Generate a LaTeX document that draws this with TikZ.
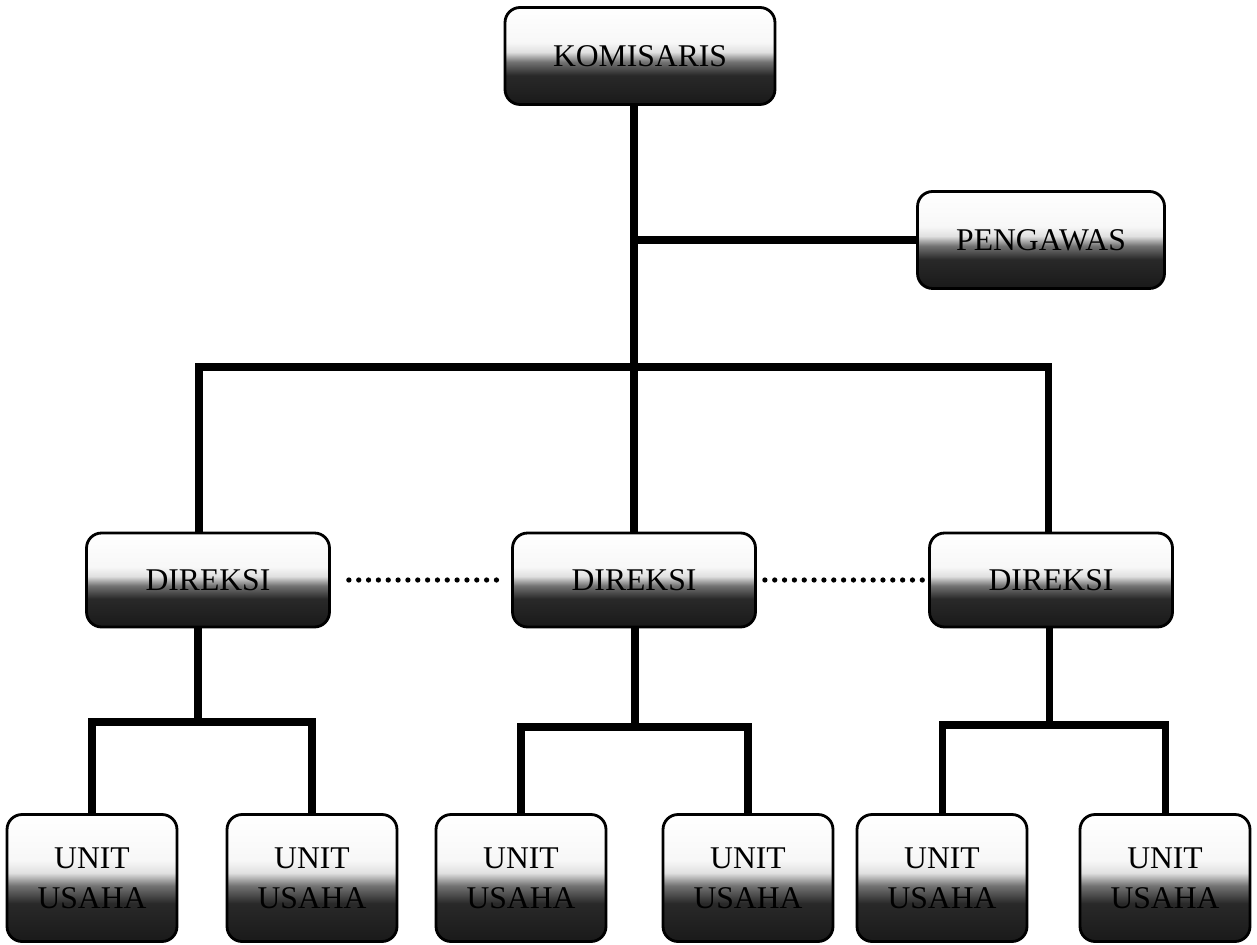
\documentclass[tikz,border=0pt]{standalone}
\usepackage{fontspec}
\setmainfont{Liberation Serif}
\usetikzlibrary{positioning}
\pgfdeclareverticalshading{graindark}{100bp}{color(0bp)=(black!90); color(25bp)=(black!90); color(40bp)=(black!84); color(47bp)=(black!55); color(52bp)=(black!12); color(57bp)=(black!3); color(75bp)=(white); color(100bp)=(white)}
\tikzset{
    org box/.style={draw, line width=1.6pt, rounded corners=0.3cm, shade, shading=graindark, font=\fontsize{18}{23}\selectfont, align=center, inner sep=0pt},
    head box/.style={org box, minimum width=#1, minimum height=1.94cm},
    head box/.default=5.4cm,
    unit box/.style={org box, minimum width=3.4cm, minimum height=2.54cm},
    org link/.style={line width=4pt},
    dot link/.style={line width=3pt, line cap=round, dash pattern=on 0pt off 5.6pt},
}

\begin{document}
\begin{tikzpicture}[x=0.02cm,y=-0.02cm]
    \useasboundingbox (0,0) rectangle (1257,945);
    \node[head box] (kom) at (640,56) {KOMISARIS};
    \node[head box=4.94cm] (peng) at (1041,240) {PENGAWAS};
    \foreach \x/\n in {208/1,634/2,1051/3} {
        \node[org box, minimum width=4.86cm, minimum height=1.88cm] (dir\n) at (\x,580) {DIREKSI};
    };
    \foreach \x/\n in {92/1,312/2,521/3,748/4,942/5,1165/6} {
        \node[unit box] (unit\n) at (\x,878) {UNIT\\USAHA};
    };

    % top of the tree
    \coordinate (bar left) at (199,367);
    \coordinate (bar right) at (1048,367);
    \draw[org link] (kom.south -| dir2.north) -- (dir2.north);
    \draw[org link] (peng.west) -- (peng.west -| dir2.north);
    \draw[org link] (dir1.north -| bar left) -- (bar left) -- (bar right) -- (dir3.north -| bar right);

    % direksi to units
    \foreach \d/\a/\b/\x/\y in {1/1/2/198/722, 2/3/4/635/727, 3/5/6/1049/725} {
        \coordinate (fork\d) at (\x,\y);
        \draw[org link] (dir\d.south -| fork\d) -- (fork\d);
        \draw[org link] (unit\a.north) |- (fork\d) -| (unit\b.north);
    };

    \draw[dot link, shorten <=0.36cm, shorten >=0.1cm] (dir1) -- (dir2);
    \draw[dot link, shorten <=0.16cm, shorten >=0.1cm] (dir2) -- (dir3);
\end{tikzpicture}
\end{document}
